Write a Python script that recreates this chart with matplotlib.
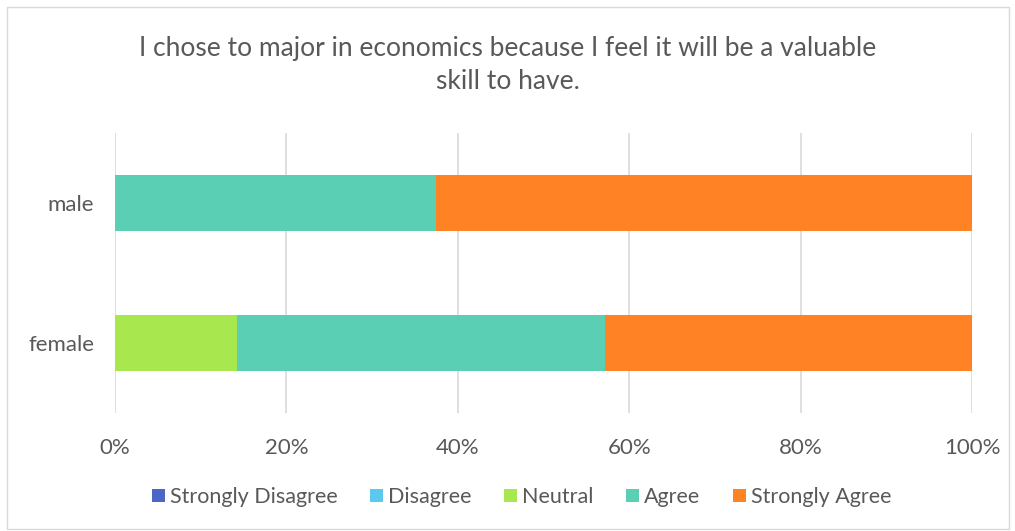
import matplotlib.pyplot as plt
from matplotlib.patches import Rectangle

# survey responses, share of each group
groups = ["female", "male"]
responses = ["Strongly Disagree", "Disagree", "Neutral", "Agree", "Strongly Agree"]
strongly_disagree = [0.0, 0.0]
disagree = [0.0, 0.0]
neutral = [1 / 7, 0.0]
agree = [3 / 7, 0.375]
strongly_agree = [3 / 7, 0.625]

colors = ["#4A66C8", "#5BC8F0", "#A8E84E", "#5BCFB3", "#FF8224"]
text_color = "#595959"

plt.rcParams["font.family"] = ["Lato", "DejaVu Sans"]

fig = plt.figure(figsize=(10.15, 5.31), dpi=100)
ax = fig.add_axes([115 / 1015, 118 / 531, 857 / 1015, 280 / 531])

# light frame round the whole chart
fig.patches.append(Rectangle((7 / 1015, 2 / 531), 1002 / 1015, 522 / 531,
                             transform=fig.transFigure, fill=False,
                             edgecolor="#D9D9D9", linewidth=1))

series = [strongly_disagree, disagree, neutral, agree, strongly_agree]
left = [0.0, 0.0]
ypos = list(range(len(groups)))
for name, vals, c in zip(responses, series, colors):
    ax.barh(ypos, vals, left=left, height=0.4, color=c, label=name, zorder=3)
    left = [l + v for l, v in zip(left, vals)]

ax.set_xlim(0, 1)
ax.set_ylim(-0.5, 1.5)
ax.set_xticks([0, 0.2, 0.4, 0.6, 0.8, 1.0])
ax.set_xticklabels(["0%", "20%", "40%", "60%", "80%", "100%"])
ax.set_yticks(ypos)
ax.set_yticklabels(groups)
ax.tick_params(axis="both", length=0, labelsize=16, colors=text_color)
ax.tick_params(axis="x", pad=18)
ax.tick_params(axis="y", pad=15)
ax.grid(axis="x", color="#D9D9D9", linewidth=1.2, zorder=0)
for s in ax.spines.values():
    s.set_visible(False)

fig.text(0.5, 0.877, "I chose to major in economics because I feel it will be a valuable\nskill to have.",
         ha="center", va="center", fontsize=19, color=text_color, linespacing=1.4)

fig.legend(loc="center", bbox_to_anchor=(0.514, 0.064), ncol=5, frameon=False,
           fontsize=15.5, labelcolor=text_color, handlelength=0.6, handleheight=0.6,
           handletextpad=0.25, columnspacing=1.5)

fig.savefig("out.png", dpi=100)
